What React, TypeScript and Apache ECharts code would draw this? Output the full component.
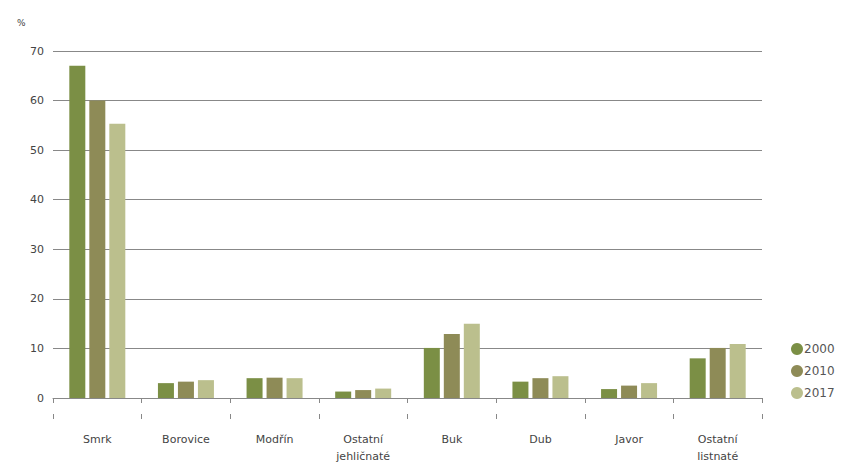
import React, { useEffect, useRef } from "react";
import * as echarts from "echarts";

const categories = ["Smrk", "Borovice", "Modřín", "Ostatní\njehličnaté", "Buk", "Dub", "Javor", "Ostatní\nlistnaté"];
const years = ["2000", "2010", "2017"];
const values2000 = [67, 3.0, 4.0, 1.3, 10.1, 3.3, 1.8, 8.0];
const values2010 = [60, 3.3, 4.1, 1.6, 12.9, 4.0, 2.5, 10.1];
const values2017 = [55.3, 3.6, 4.0, 1.9, 15.0, 4.4, 3.0, 10.9];
const colors = ["#7b8f45", "#8e8b57", "#bbbf8d"];
const yTicks = { min: 0, max: 70, interval: 10 };

export default function App() {
  const ref = useRef<HTMLDivElement>(null);
  useEffect(() => {
    if (!ref.current) return;
    const chart = echarts.init(ref.current, null, { renderer: "svg" });
    const font = "DejaVu Sans";
    const seriesData = [values2000, values2010, values2017];
    chart.setOption({
      animation: false,
      textStyle: { fontFamily: font },
      title: {
        text: "%",
        left: 12,
        top: 13,
        textStyle: { fontSize: 9, color: "#444", fontWeight: "normal", fontFamily: font },
      },
      legend: {
        orient: "vertical",
        left: 786,
        top: 338,
        itemGap: 10,
        itemWidth: 12,
        itemHeight: 12,
        icon: "circle",
        data: years,
        textStyle: { fontSize: 12, color: "#555", fontFamily: font, padding: [0, 0, 0, -4] },
      },
      grid: { left: 53, right: 83, top: 51, bottom: 63, containLabel: false },
      xAxis: [
        {
          type: "category",
          data: categories,
          offset: 21,
          axisLine: { show: true, lineStyle: { color: "#888", width: 1 } },
          axisTick: { show: true, length: 5, lineStyle: { color: "#888" } },
          axisLabel: { fontSize: 11, color: "#444", margin: 12, lineHeight: 17, fontFamily: font },
        },
        {
          type: "category",
          data: categories,
          position: "bottom",
          offset: 21,
          axisLine: { show: false },
          axisTick: { show: true, inside: true, length: 5, lineStyle: { color: "#888" } },
          axisLabel: { show: false },
        },
      ],
      yAxis: {
        type: "value",
        min: yTicks.min,
        max: yTicks.max,
        interval: yTicks.interval,
        axisLine: { show: false },
        axisTick: { show: false },
        axisLabel: { fontSize: 11, color: "#444", margin: 9, fontFamily: font },
        splitLine: { show: true, lineStyle: { color: "#888", width: 1 } },
      },
      series: years.map((y, i) => ({
        name: y,
        type: "bar",
        data: seriesData[i],
        barWidth: 16,
        barGap: "25%",
        itemStyle: { color: colors[i] },
      })),
    });
    return () => chart.dispose();
  }, []);
  return <div ref={ref} style={{ width: 845, height: 465, position: "absolute", left: 0, top: 0 }} />;
}
